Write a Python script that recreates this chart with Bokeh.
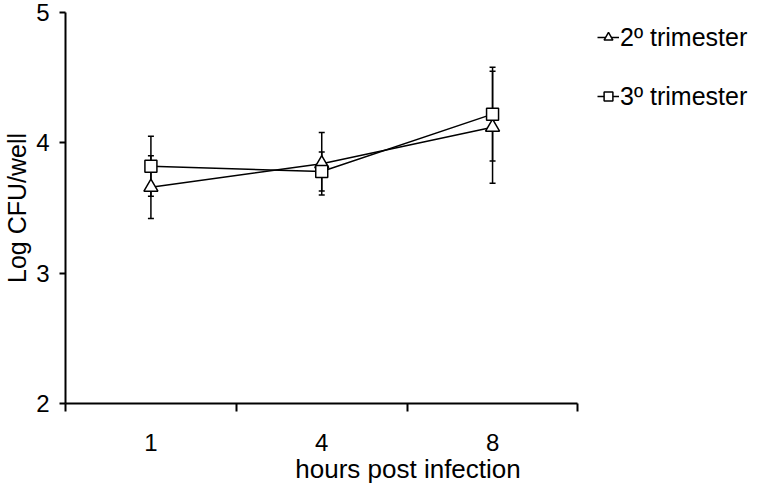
from bokeh.plotting import figure
from bokeh.models import (ColumnDataSource, Range1d, LinearAxis, FixedTicker, Whisker, TeeHead,
                          Legend, LegendItem)
from bokeh.embed import file_html
from bokeh.resources import INLINE

# ---- data ----
hours = ["1", "4", "8"]
tri_mean = [3.66, 3.84, 4.12]   # 2º trimester
tri_err = [0.24, 0.24, 0.43]
sq_mean = [3.82, 3.78, 4.22]    # 3º trimester
sq_err = [0.23, 0.15, 0.36]
y_ticks = [2, 3, 4, 5]

FONT = "Liberation Sans"

# category slots: each category occupies one unit, centred at i + 0.5
centers = [i + 0.5 for i in range(len(hours))]
edges = list(range(len(hours) + 1))

tri_src = ColumnDataSource(dict(x=centers, y=tri_mean,
                                lo=[m - e for m, e in zip(tri_mean, tri_err)],
                                hi=[m + e for m, e in zip(tri_mean, tri_err)]))
sq_src = ColumnDataSource(dict(x=centers, y=sq_mean,
                               lo=[m - e for m, e in zip(sq_mean, sq_err)],
                               hi=[m + e for m, e in zip(sq_mean, sq_err)]))

# x range extends past the last category so that the legend sits in the frame to the right
p = figure(width=750, height=486,
           x_range=Range1d(edges[0], 4.01),
           y_range=Range1d(y_ticks[0], y_ticks[-1]),
           x_axis_type=None, y_axis_type=None,
           output_backend="svg", toolbar_location=None,
           min_border_left=64, min_border_right=0, min_border_top=12, min_border_bottom=82)
p.outline_line_color = None
p.background_fill_color = "white"

x_axis = LinearAxis(ticker=FixedTicker(ticks=centers, minor_ticks=edges),
                    bounds=(edges[0], edges[-1]),
                    major_label_overrides={c: h for c, h in zip(centers, hours)},
                    major_tick_in=0, major_tick_out=0,
                    minor_tick_in=0, minor_tick_out=8,
                    minor_tick_line_width=2, minor_tick_line_color="black",
                    axis_line_width=2, axis_line_color="black",
                    major_label_text_font=FONT, major_label_text_font_size="24px",
                    major_label_text_color="black", major_label_standoff=22,
                    axis_label="hours post infection", axis_label_text_font=FONT,
                    axis_label_text_font_size="26px", axis_label_text_font_style="normal",
                    axis_label_text_color="black", axis_label_standoff=0)
p.add_layout(x_axis, "below")

y_axis = LinearAxis(ticker=FixedTicker(ticks=y_ticks, minor_ticks=[]),
                    major_tick_in=0, major_tick_out=6,
                    major_tick_line_width=2, axis_line_width=2,
                    axis_line_color="black", major_tick_line_color="black",
                    minor_tick_line_color=None,
                    major_label_text_font=FONT, major_label_text_font_size="24px",
                    major_label_text_color="black", major_label_standoff=10,
                    axis_label="Log CFU/well", axis_label_text_font=FONT,
                    axis_label_text_font_size="25px", axis_label_text_font_style="normal",
                    axis_label_text_color="black", axis_label_standoff=2)
p.add_layout(y_axis, "left")

# error bars
for src in (tri_src, sq_src):
    w = Whisker(base="x", lower="lo", upper="hi", source=src,
                line_color="black", line_width=1.5,
                upper_head=TeeHead(size=6, line_color="black", line_width=1.5),
                lower_head=TeeHead(size=6, line_color="black", line_width=1.5))
    p.add_layout(w)

tri_line = p.line("x", "y", source=tri_src, line_color="black", line_width=1.5)
sq_line = p.line("x", "y", source=sq_src, line_color="black", line_width=1.5)
tri_mark = p.scatter("x", "y", source=tri_src, marker="triangle", size=14,
                     fill_color="white", line_color="black", line_width=1.5)
sq_mark = p.scatter("x", "y", source=sq_src, marker="square", size=12,
                    fill_color="white", line_color="black", line_width=1.5)

legend = Legend(items=[LegendItem(label="2º trimester", renderers=[tri_line, tri_mark]),
                       LegendItem(label="3º trimester", renderers=[sq_line, sq_mark])],
                location=(532, 292), glyph_width=22, glyph_height=30,
                label_text_font=FONT, label_text_font_size="25px", label_text_color="black",
                label_standoff=1, spacing=29, padding=0, margin=0,
                border_line_color=None, background_fill_alpha=0)
p.add_layout(legend)

open("out.html", "w").write(file_html(p, INLINE))
